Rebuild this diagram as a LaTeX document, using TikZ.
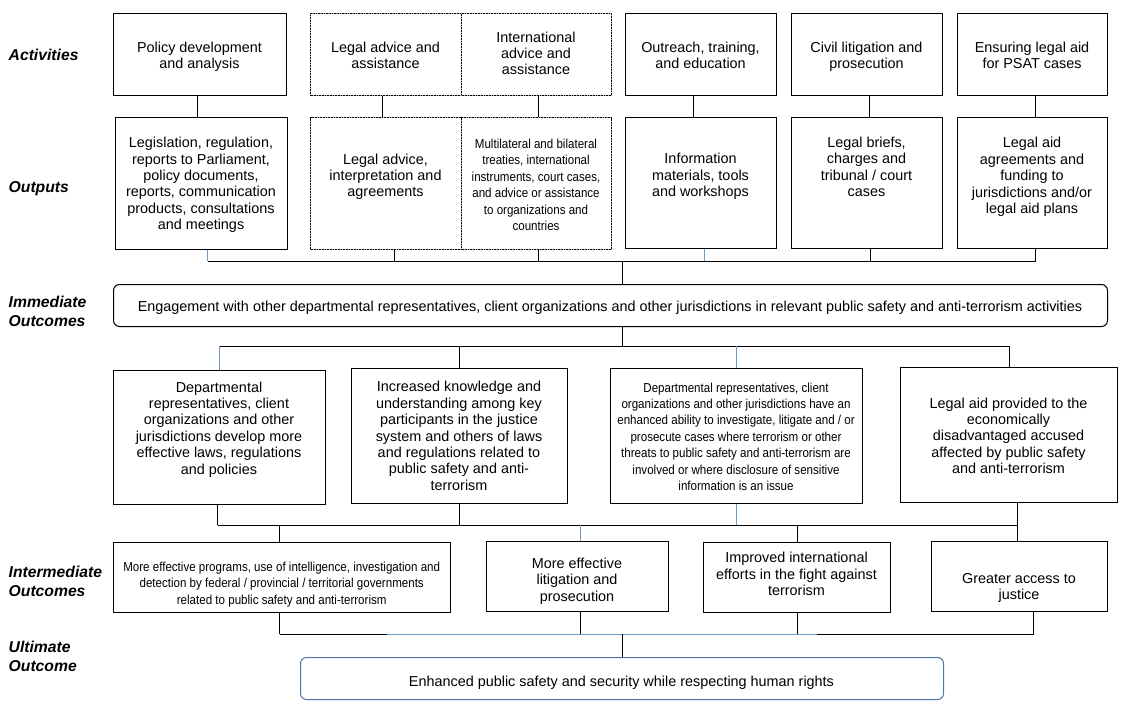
\documentclass[tikz,border=0pt]{standalone}
\usepackage{fontspec}
\setmainfont{Liberation Sans}
\newfontfamily\narrowfont{Liberation Sans}[FakeStretch=0.89]
\definecolor{lb}{HTML}{6E9BC5}
\definecolor{ub}{HTML}{4A76A4}
\begin{document}
\begin{tikzpicture}[x=1pt,y=-1pt,
  box/.style={draw=black, line width=1pt, inner sep=0pt, anchor=north west},
  rbox/.style={box, rounded corners=6pt},
  dbox/.style={box, dash pattern=on 1pt off 0.6pt, preaction={draw=lb!70, solid, line width=1pt}},
  txt/.style={align=center, inner sep=0pt, yshift=-1.5pt, font=\fontsize{14.4pt}{16.4pt}\selectfont,
    execute at begin node=\strut, execute at end node=\strut},
  ntxt/.style={align=center, inner sep=0pt, yshift=-1.5pt, font=\narrowfont\fontsize{13pt}{16.4pt}\selectfont,
    execute at begin node=\strut, execute at end node=\strut},
  lab/.style={anchor=west, align=left, inner sep=0pt, yshift=-1pt, font=\bfseries\itshape\fontsize{15.7pt}{18.4pt}\selectfont,
    execute at begin node=\strut, execute at end node=\strut},
  conn/.style={draw=black, line width=1pt},
  bconn/.style={draw=lb, line width=1pt}]
\useasboundingbox (0,0) rectangle (1142,717);

% ---- side labels
\node[lab] (lact) at (8.5,55.4) {Activities};
\node[lab] (lout) at (8.5,187.7) {Outputs};
\node[lab] (limm) at (8.5,312.9) {Immediate\\Outcomes};
\node[lab] (lint) at (8.5,583.1) {Intermediate\\Outcomes};
\node[lab] (lult) at (8.5,657.9) {Ultimate\\Outcome};

% ---- activities
\node[box,  minimum width=173pt, minimum height=82pt] (a1)  at (113,13) {};
\node[dbox, minimum width=151pt, minimum height=82pt] (a2l) at (310,13) {};
\node[dbox, minimum width=150pt, minimum height=82pt] (a2r) at (461,13) {};
\node[box,  minimum width=151pt, minimum height=82pt] (a3)  at (625,13) {};
\node[box,  minimum width=151pt, minimum height=82pt] (a4)  at (791,13) {};
\node[box,  minimum width=150pt, minimum height=82pt] (a5)  at (957,13) {};
\node[txt] (a1t)  at (199.5,56.2) {Policy development\\and analysis};
\node[txt] (a2lt) at (385.5,56.2) {Legal advice and\\assistance};
\node[txt] (a2rt) at (536,54.2) {International\\advice and\\assistance};
\node[txt] (a3t)  at (700.5,56.2) {Outreach, training,\\and education};
\node[txt] (a4t)  at (866.5,56.2) {Civil litigation and\\prosecution};
\node[txt] (a5t)  at (1032,56.2) {Ensuring legal aid\\for PSAT cases};

% ---- outputs
\node[box,  minimum width=172pt, minimum height=132pt] (o1)  at (115,117) {};
\node[dbox, minimum width=151pt, minimum height=132pt] (o2l) at (310,117) {};
\node[dbox, minimum width=150pt, minimum height=132pt] (o2r) at (461,117) {};
\node[box,  minimum width=151pt, minimum height=131pt] (o3)  at (625,117) {};
\node[box,  minimum width=151pt, minimum height=131pt] (o4)  at (791,117) {};
\node[box,  minimum width=150pt, minimum height=131pt] (o5)  at (957,117) {};
\node[txt] (o1t) at (201,184.4) {Legislation, regulation,\\reports to Parliament,\\policy documents,\\reports, communication\\products, consultations\\and meetings};
\node[txt] (o2lt) at (385.5,176.2) {Legal advice,\\interpretation and\\agreements};
\node[ntxt] (o2rt) at (536,185.7) {Multilateral and bilateral\\treaties, international\\instruments, court cases,\\and advice or assistance\\to organizations and\\countries};
\node[txt] (o3t) at (700.5,175.9) {Information\\materials, tools\\and workshops};
\node[txt] (o4t) at (866.5,167.9) {Legal briefs,\\charges and\\tribunal / court\\cases};
\node[txt] (o5t) at (1032,176.5) {Legal aid\\agreements and\\funding to\\jurisdictions and/or\\legal aid plans};

% ---- activity -> output connectors
\draw[conn] ([xshift=-2.5pt]a1.south) -- ([xshift=-2.5pt]a1.south |- o1.north);
\draw[conn] ([xshift=-3.5pt]a2l.south) -- ([xshift=-3.5pt]a2l.south |- o2l.north);
\draw[conn] ([xshift=2pt]a2r.south) -- ([xshift=2pt]a2r.south |- o2r.north);
\draw[conn] ([xshift=-7.5pt]a3.south) -- ([xshift=-7.5pt]a3.south |- o3.north);
\draw[conn] ([xshift=2.5pt]a4.south) -- ([xshift=2.5pt]a4.south |- o4.north);
\draw[conn] ([xshift=3pt]a5.south) -- ([xshift=3pt]a5.south |- o5.north);

% ---- immediate outcome
\node[rbox, minimum width=994pt, minimum height=42pt] (imm) at (113,284) {};
\node[txt] (immt) at (610,306.4) {Engagement with other departmental representatives, client organizations and other jurisdictions in relevant public safety and anti-terrorism activities};

% ---- output bus
\coordinate (ob) at (0,261);
\draw[bconn] ([xshift=6pt]o1.south) -- ([xshift=6pt]o1.south |- ob);
\draw[conn] ([xshift=8pt]o2l.south) -- ([xshift=8pt]o2l.south |- ob);
\draw[conn] ([xshift=2pt]o2r.south) -- ([xshift=2pt]o2r.south |- ob);
\draw[bconn] ([xshift=3pt]o3.south) -- ([xshift=3pt]o3.south |- ob);
\draw[conn] ([xshift=3pt]o4.south) -- ([xshift=3pt]o4.south |- ob);
\draw[conn] ([xshift=3pt]o5.south) -- ([xshift=3pt]o5.south |- ob);
\draw[conn] ([xshift=6pt]o1.south |- ob) -- ([xshift=3pt]o5.south |- ob);
\draw[conn] ([xshift=11.5pt]imm.north) -- ([xshift=11.5pt]imm.north |- ob);

% ---- second row outcomes
\node[box, minimum width=212pt, minimum height=134pt] (d1) at (113,370) {};
\node[box, minimum width=216pt, minimum height=135pt] (d2) at (351,368) {};
\node[box, minimum width=252pt, minimum height=135pt] (d3) at (610,368) {};
\node[box, minimum width=217pt, minimum height=135pt] (d4) at (900,367) {};
\node[txt] (d1t) at (219,428.9) {Departmental\\representatives, client\\organizations and other\\jurisdictions develop more\\effective laws, regulations\\and policies};
\node[txt] (d2t) at (459,436.9) {Increased knowledge and\\understanding among key\\participants in the justice\\system and others of laws\\and regulations related to\\public safety and anti-\\terrorism};
\node[ntxt] (d3t) at (736,437.5) {Departmental representatives, client\\organizations and other jurisdictions have an\\enhanced ability to investigate, litigate and / or\\prosecute cases where terrorism or other\\threats to public safety and anti-terrorism are\\involved or where disclosure of sensitive\\information is an issue};
\node[txt] (d4t) at (1008.5,436.7) {Legal aid provided to the\\economically\\disadvantaged accused\\affected by public safety\\and anti-terrorism};

% ---- immediate -> second row bus
\coordinate (db) at (0,346);
\draw[conn] ([xshift=11.5pt]imm.south) -- ([xshift=11.5pt]imm.south |- db);
\draw[conn] (d1.north |- db) -- (d4.north |- db);
\draw[bconn] (d1.north) -- (d1.north |- db);
\draw[conn] (d2.north) -- (d2.north |- db);
\draw[bconn] (d3.north) -- (d3.north |- db);
\draw[conn] (d4.north) -- (d4.north |- db);

% ---- intermediate outcomes
\node[box, minimum width=337pt, minimum height=70pt] (i1) at (113,542) {};
\node[box, minimum width=182pt, minimum height=70pt] (i2) at (486,541) {};
\node[box, minimum width=187pt, minimum height=70pt] (i3) at (703,542) {};
\node[box, minimum width=176pt, minimum height=70pt] (i4) at (931,541) {};
\node[ntxt] (i1t) at (281.7,584.2) {More effective programs, use of intelligence, investigation and\\detection by federal / provincial / territorial governments\\related to public safety and anti-terrorism};
\node[txt] (i2t) at (577,580.4) {More effective\\litigation and\\prosecution};
\node[txt] (i3t) at (796.5,574.9) {Improved international\\efforts in the fight against\\terrorism};
\node[txt] (i4t) at (1019,587.5) {Greater access to\\justice};

% ---- second row -> intermediate bus
\coordinate (ib) at (0,525.3);
\draw[conn] ([xshift=-2pt]d1.south) -- ([xshift=-2pt]d1.south |- ib);
\draw[conn] (d2.south) -- (d2.south |- ib);
\draw[bconn] (d3.south) -- (d3.south |- ib);
\draw[conn] ([xshift=8pt]d4.south) -- ([xshift=8pt]d4.south |- i4.north);
\draw[conn] ([xshift=-2pt]d1.south |- ib) -- ([xshift=8pt]d4.south |- ib);
\draw[conn] ([xshift=-2.5pt]i1.north) -- ([xshift=-2.5pt]i1.north |- ib);
\draw[bconn] ([xshift=3pt]i2.north) -- ([xshift=3pt]i2.north |- ib);
\draw[conn] (i3.north) -- (i3.north |- ib);

% ---- ultimate outcome
\node[rbox, draw=ub, minimum width=643pt, minimum height=42pt] (ult) at (300,657) {};
\node[txt] (ultt) at (621.5,681.4) {Enhanced public safety and security while respecting human rights};

% ---- intermediate -> ultimate bus
\coordinate (ubus) at (0,634.3);
\coordinate (ubl) at (387,634.3);
\coordinate (ubr) at (817,634.3);
\draw[conn] ([xshift=-2.5pt]i1.south) -- ([xshift=-2.5pt]i1.south |- ubus);
\draw[conn] ([xshift=3pt]i2.south) -- ([xshift=3pt]i2.south |- ubus);
\draw[conn] (i3.south) -- (i3.south |- ubus);
\draw[conn] ([xshift=14pt]i4.south) -- ([xshift=14pt]i4.south |- ubus);
\draw[conn] ([xshift=-2.5pt]i1.south |- ubus) -- ([xshift=14pt]i4.south |- ubus);
\draw[bconn] (ubl) -- (ubr);
\draw[conn] (ult.north) -- (ult.north |- ubus);
\end{tikzpicture}
\end{document}
